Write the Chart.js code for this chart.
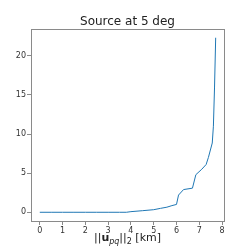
<!DOCTYPE html>
<html lang="en">
<head>
    <meta charset="UTF-8">
    <title>Source at 5 deg</title>
    <script src="https://cdn.jsdelivr.net/npm/chart.js"></script>
    <style>
        html, body {
            margin: 0;
            padding: 0;
            background: #ffffff;
        }
        .box {
            width: 249px;
            height: 249px;
        }
    </style>
</head>
<body>
<div class="box"><canvas id="myChart" width="249" height="249"></canvas></div>
<script>
// baseline length (km) and value
const baseline = [0, 0.5, 1, 1.5, 2, 2.5, 3, 3.5, 3.8, 4.0, 4.5, 5.0, 5.3, 5.58, 5.8, 6.0, 6.09, 6.31, 6.7, 6.85, 7.11, 7.3, 7.4, 7.57, 7.62, 7.67, 7.72];
const values = [0, 0, 0, 0, 0, 0, 0, 0, 0, 0.08, 0.2, 0.33, 0.5, 0.65, 0.85, 1.0, 2.2, 2.9, 3.08, 4.8, 5.5, 6.1, 7.0, 8.85, 11, 16, 22.3];
const xTicks = [0, 1, 2, 3, 4, 5, 6, 7, 8];
const yTicks = [0, 5, 10, 15, 20];

const FONT = 'DejaVu Sans';
const AXIS = '#8a8a8a';

// frame, title and the math-style x label
const frame = {
    id: 'frame',
    afterDraw(chart) {
        const { ctx, chartArea: a } = chart;
        ctx.save();
        ctx.strokeStyle = AXIS;
        ctx.lineWidth = 1;
        ctx.strokeRect(Math.round(a.left) + 0.5, Math.round(a.top) + 0.5,
            Math.round(a.right - a.left), Math.round(a.bottom - a.top));

        ctx.fillStyle = '#222';
        ctx.textAlign = 'center';
        ctx.textBaseline = 'alphabetic';
        ctx.font = `12px ${FONT}`;
        const cx = (a.left + a.right) / 2;
        ctx.fillText('Source at 5 deg', cx, 25);

        // ||u_pq||_2 [km]
        const parts = [
            { t: '||', f: `11px ${FONT}`, dy: 0 },
            { t: 'u', f: `bold 11px ${FONT}`, dy: 0 },
            { t: 'pq', f: `italic 8px ${FONT}`, dy: 3 },
            { t: '||', f: `11px ${FONT}`, dy: 0 },
            { t: '2', f: `8px ${FONT}`, dy: 3 },
            { t: ' [km]', f: `11px ${FONT}`, dy: 0 }
        ];
        ctx.textAlign = 'left';
        let w = 0;
        parts.forEach(p => { ctx.font = p.f; w += ctx.measureText(p.t).width; });
        let x = cx - w / 2;
        parts.forEach(p => {
            ctx.font = p.f;
            ctx.fillText(p.t, x, 241 + p.dy);
            x += ctx.measureText(p.t).width;
        });
        ctx.restore();
    }
};

const ctx = document.getElementById('myChart').getContext('2d');
new Chart(ctx, {
    type: 'scatter',
    data: {
        datasets: [{
            data: baseline.map((b, i) => ({ x: b, y: values[i] })),
            showLine: true,
            borderColor: '#1f77b4',
            borderWidth: 1,
            pointRadius: 0,
            tension: 0
        }]
    },
    options: {
        responsive: false,
        animation: false,
        layout: { padding: { top: 29, right: 25, left: 0, bottom: 0 } },
        plugins: {
            legend: { display: false },
            tooltip: { enabled: false },
            title: { display: false }
        },
        scales: {
            x: {
                type: 'linear',
                min: -0.385,
                max: 8.085,
                afterBuildTicks: axis => { axis.ticks = xTicks.map(v => ({ value: v })); },
                afterFit: axis => { axis.height = 28; },
                grid: { drawOnChartArea: false, color: AXIS, tickLength: 4 },
                border: { display: false },
                ticks: { color: '#333', font: { family: FONT, size: 8 }, padding: 1, maxRotation: 0 }
            },
            y: {
                type: 'linear',
                min: -1.115,
                max: 23.415,
                afterBuildTicks: axis => { axis.ticks = yTicks.map(v => ({ value: v })); },
                afterFit: axis => { axis.width = 31; },
                grid: { drawOnChartArea: false, color: AXIS, tickLength: 4 },
                border: { display: false },
                ticks: { color: '#333', font: { family: FONT, size: 8 }, padding: 1 }
            }
        }
    },
    plugins: [frame]
});
</script>
</body>
</html>
